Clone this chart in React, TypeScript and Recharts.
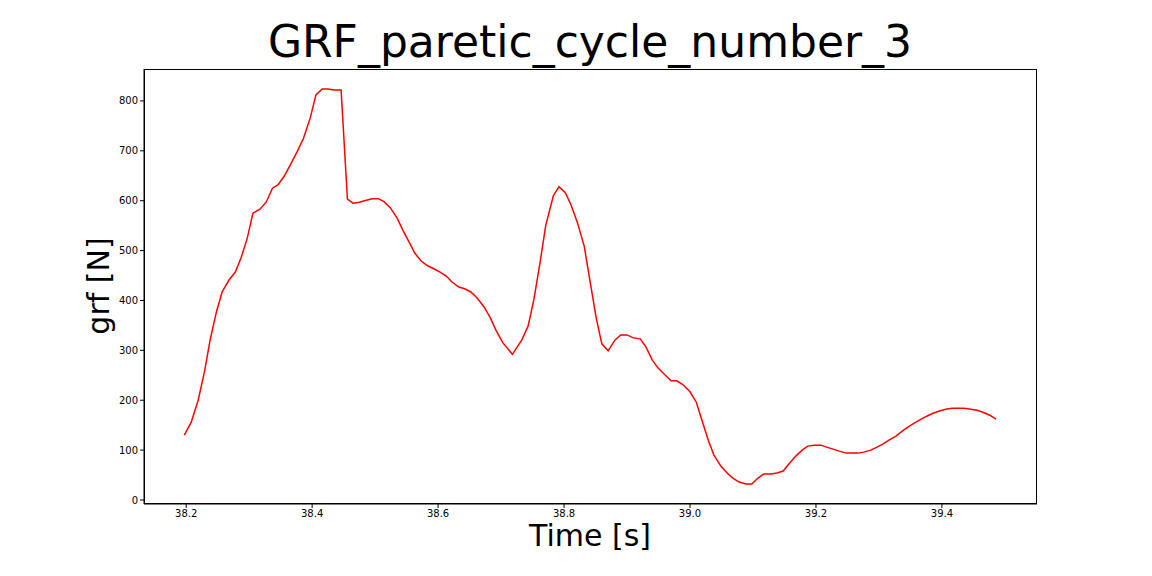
import { LineChart, Line, XAxis, YAxis } from "recharts";

const times = [
  38.197, 38.208, 38.219, 38.229, 38.238, 38.248, 38.257, 38.268, 38.278, 38.287,
  38.297, 38.306, 38.317, 38.327, 38.337, 38.346, 38.356, 38.367, 38.376, 38.386,
  38.397, 38.406, 38.416, 38.425, 38.435, 38.446, 38.456, 38.465, 38.475, 38.486,
  38.495, 38.505, 38.514, 38.524, 38.535, 38.544, 38.554, 38.563, 38.573, 38.584,
  38.594, 38.603, 38.613, 38.622, 38.633, 38.643, 38.652, 38.662, 38.673, 38.683,
  38.692, 38.703, 38.718, 38.733, 38.743, 38.752, 38.762, 38.771, 38.783, 38.792,
  38.802, 38.811, 38.821, 38.832, 38.841, 38.851, 38.86, 38.87, 38.881, 38.89,
  38.9, 38.91, 38.921, 38.93, 38.94, 38.949, 38.96, 38.97, 38.979, 38.989,
  39.0, 39.01, 39.019, 39.029, 39.038, 39.049, 39.059, 39.068, 39.078, 39.089,
  39.098, 39.108, 39.117, 39.129, 39.138, 39.148, 39.157, 39.168, 39.178, 39.187,
  39.197, 39.208, 39.217, 39.227, 39.237, 39.248, 39.257, 39.267, 39.276, 39.287,
  39.297, 39.306, 39.316, 39.327, 39.337, 39.346, 39.356, 39.367, 39.376, 39.386,
  39.395, 39.406, 39.416, 39.425, 39.435, 39.446, 39.456, 39.465, 39.476, 39.486,
];

const grf = [
  130, 156, 200, 257, 321, 377, 417, 441, 457, 485,
  525, 575, 583, 597, 625, 632, 650, 676, 698, 724,
  766, 812, 824, 824, 822, 822, 603, 595, 597, 601,
  604, 604, 598, 586, 565, 541, 517, 495, 479, 469,
  463, 457, 449, 437, 427, 423, 417, 405, 387, 365,
  340, 315, 292, 321, 349, 401, 477, 551, 610, 628,
  616, 592, 557, 509, 441, 365, 313, 299, 321, 331,
  331, 325, 323, 307, 281, 265, 251, 239, 239, 231,
  217, 196, 160, 120, 90, 68, 54, 44, 36, 32,
  32, 44, 52, 52, 54, 58, 72, 88, 100, 108,
  110, 110, 106, 102, 98, 94, 94, 94, 96, 100,
  106, 112, 120, 128, 138, 146, 154, 162, 168, 174,
  178, 182, 184, 184, 184, 182, 180, 176, 170, 162,
];

const xTicks = [38.2, 38.4, 38.6, 38.8, 39.0, 39.2, 39.4];
const yTicks = [0, 100, 200, 300, 400, 500, 600, 700, 800];

const data = times.map((t, i) => ({ t, v: grf[i] }));

const font = "'DejaVu Sans', sans-serif";
const tickStyle = { fill: "#000", fontSize: 10, fontFamily: font };

export default function App() {
  return (
    <div style={{ position: "absolute", left: 0, top: 0, width: 1152, height: 576, background: "#fff" }}>
      <LineChart
        width={1152}
        height={576}
        data={data}
        margin={{ top: 69, right: 115, left: 84, bottom: 42 }}
      >
        <XAxis
          dataKey="t"
          type="number"
          domain={[38.133, 39.551]}
          ticks={xTicks}
          tickFormatter={(v: number) => v.toFixed(1)}
          height={30}
          tick={tickStyle}
          stroke="#000"
          tickSize={4}
        />
        <YAxis
          type="number"
          domain={[-8, 864]}
          ticks={yTicks}
          width={60}
          tick={tickStyle}
          stroke="#000"
          tickSize={4}
        />
        <Line
          dataKey="v"
          stroke="#ff0000"
          strokeWidth={1.5}
          dot={false}
          type="linear"
          isAnimationActive={false}
        />
      </LineChart>
      <div style={{ position: "absolute", left: 144, top: 69, width: 893, height: 435, border: "1px solid #000", boxSizing: "border-box", pointerEvents: "none" }} />
      <div style={{ position: "absolute", left: 0, width: 1180, top: 16, textAlign: "center", fontFamily: font, fontSize: 44 }}>
        GRF_paretic_cycle_number_3
      </div>
      <div style={{ position: "absolute", left: 0, width: 1180, top: 518, textAlign: "center", fontFamily: font, fontSize: 30 }}>
        Time [s]
      </div>
      <div style={{ position: "absolute", left: 98, top: 286, transform: "translate(-50%, -50%) rotate(-90deg)", fontFamily: font, fontSize: 30, whiteSpace: "nowrap" }}>
        grf [N]
      </div>
    </div>
  );
}
